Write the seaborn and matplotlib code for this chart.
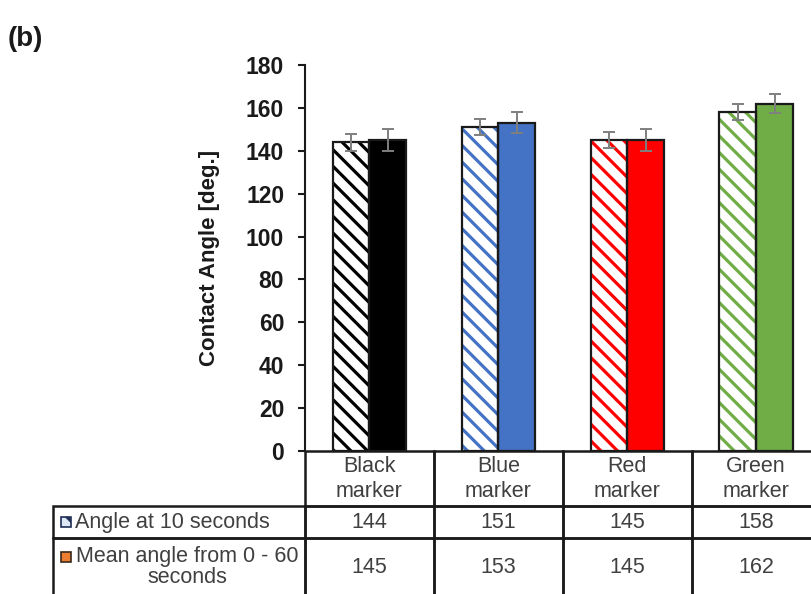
import matplotlib
matplotlib.use("Agg")
import matplotlib.pyplot as plt
from matplotlib.patches import Rectangle
from matplotlib.table import Table
import pandas as pd
import seaborn as sns

# ---- data -------------------------------------------------------------
markers = ["Black\nmarker", "Blue\nmarker", "Red\nmarker", "Green\nmarker"]
series = ["Angle at 10 seconds", "Mean angle from 0 - 60\nseconds"]
angle_10s = [144, 151, 145, 158]
angle_mean = [145, 153, 145, 162]
err_10s = [3.9, 3.7, 3.7, 3.6]
err_mean = [5.0, 4.9, 5.0, 4.5]
marker_colors = ["#000000", "#4472C4", "#FF0000", "#70AD47"]
yticks = [0, 20, 40, 60, 80, 100, 120, 140, 160, 180]

# ---- style ------------------------------------------------------------
sns.set_theme(style="white")
plt.rcParams["font.family"] = ["Liberation Sans", "DejaVu Sans"]
plt.rcParams["hatch.linewidth"] = 2.3
TEXT_GREY = "#404040"
LINE = "#1a1a1a"

fig = plt.figure(figsize=(8.12, 5.94), dpi=100)
ax = fig.add_axes([0.3756, 0.2407, 0.635, 0.6499])

df = pd.DataFrame({
    "marker": markers * 2,
    "series": [s for s in series for _ in markers],
    "angle": angle_10s + angle_mean,
})
sns.barplot(data=df, x="marker", y="angle", hue="series", order=markers,
            hue_order=series, width=0.57, gap=0, errorbar=None,
            legend=False, saturation=1, ax=ax)

hatched, solid = ax.containers[0], ax.containers[1]
for p, c in zip(hatched, marker_colors):
    p.set_facecolor("white")
    p.set_edgecolor(c)
    p.set_hatch("\\" * 2)
    p.set_linewidth(0)
    ax.add_patch(Rectangle(p.get_xy(), p.get_width(), p.get_height(),
                           fill=False, edgecolor=LINE, linewidth=1.6,
                           zorder=p.get_zorder() + 0.1))
for p, c in zip(solid, marker_colors):
    p.set_facecolor(c)
    p.set_edgecolor(LINE)
    p.set_linewidth(1.6)

for cont, vals, err in [(hatched, angle_10s, err_10s), (solid, angle_mean, err_mean)]:
    xs = [p.get_x() + p.get_width() / 2 for p in cont]
    ax.errorbar(xs, vals, yerr=err, fmt="none", ecolor="#7f7f7f",
                elinewidth=1.4, capsize=4.5, capthick=1.4, zorder=5)

# ---- axes -------------------------------------------------------------
ax.set_xlim(-0.5, 3.5)
ax.set_ylim(0, 180)
ax.set_yticks(yticks)
ax.set_xticks([])
ax.set_xlabel("")
sns.despine(ax=ax, top=True, right=True, bottom=True)
ax.spines["left"].set_color(LINE)
ax.spines["left"].set_linewidth(1.5)
ax.tick_params(axis="y", left=True, length=5, width=1.5, pad=10,
               labelsize=16.5, colors=LINE)
for t in ax.get_yticklabels():
    t.set_fontweight("bold")
ax.set_ylabel("Contact Angle [deg.]", fontsize=16, fontweight="bold",
              labelpad=19, color=LINE)

# ---- data table under the plot ---------------------------------------
label_w = 252 / 516
col_w = 129 / 516
row_h = [55, 32, 58]
tbl_h = sum(row_h) / 386
# bbox covers the data columns; the row-label column sits to its left
tbl = Table(ax, bbox=[0, -tbl_h, 1, tbl_h])
tbl.auto_set_font_size(False)

rows = [[m for m in markers], [str(v) for v in angle_10s], [str(v) for v in angle_mean]]
for r, cells in enumerate(rows):
    h = row_h[r] / 386
    lab = tbl.add_cell(r, -1, width=label_w, height=h, text="",
                       edgecolor=LINE, facecolor="none")
    if r == 0:
        lab.visible_edges = "open"
    for c, txt in enumerate(cells):
        cell = tbl.add_cell(r, c, width=col_w, height=h, text=txt, loc="center",
                            edgecolor=LINE, facecolor="none")
        cell.get_text().set_color(TEXT_GREY)
        cell.get_text().set_linespacing(1.25)
for cell in tbl.get_celld().values():
    cell.set_linewidth(1.8)
tbl.set_fontsize(15.5)
ax.add_table(tbl)

# row labels with their legend keys
def ax_xy(px, py):
    return (px - 305) / 516, (451 - py) / 386

key_w, key_h = 10 / 516, 10 / 386
k1 = ax_xy(61, 527)
ax.add_patch(Rectangle(k1, key_w, key_h, transform=ax.transAxes, clip_on=False,
                       facecolor="#dce6f5", edgecolor="#1f2f55", linewidth=1.2,
                       hatch="\\" * 2))
k2 = ax_xy(61, 562)
ax.add_patch(Rectangle(k2, key_w, key_h, transform=ax.transAxes, clip_on=False,
                       facecolor="#ED7D31", edgecolor="#3a2a1a", linewidth=1.2))

tx, ty = ax_xy(75, 522)
ax.text(tx, ty, series[0], transform=ax.transAxes, ha="left", va="center",
        fontsize=15.5, color=TEXT_GREY)
tx, ty = ax_xy(76, 567)
ax.text(tx, ty, series[1], transform=ax.transAxes, ha="left", va="center",
        multialignment="center", linespacing=1.0, fontsize=15.5, color=TEXT_GREY)

fig.text(8 / 812, 1 - 39 / 594, "(b)", fontsize=20, fontweight="bold",
         ha="left", va="center", color=LINE)

fig.savefig("out.png", dpi=100)
